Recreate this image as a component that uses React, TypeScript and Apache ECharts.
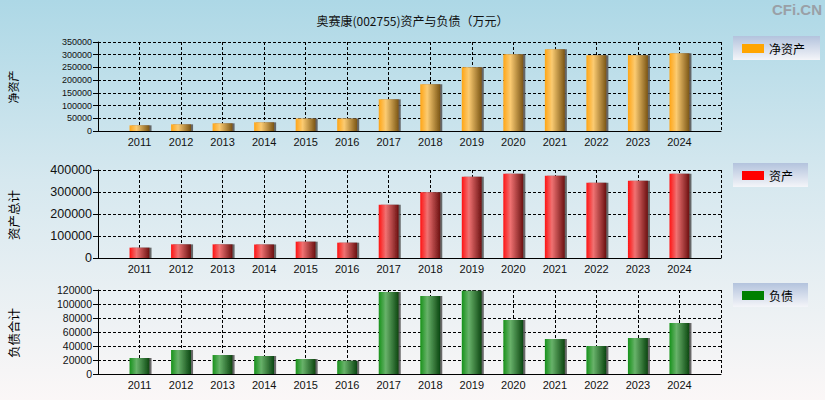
import React, { useEffect, useRef } from "react";
import * as echarts from "echarts";

const years = ["2011", "2012", "2013", "2014", "2015", "2016", "2017", "2018", "2019", "2020", "2021", "2022", "2023", "2024"];
const netAssets = [22300, 26200, 30200, 34100, 49000, 49000, 124700, 183700, 250700, 301800, 321500, 297900, 297900, 305800];
const totalAssets = [47000, 62000, 62000, 61500, 74200, 69700, 242400, 298500, 369700, 383300, 374200, 342400, 351500, 383300];
const liabilities = [22900, 34300, 27100, 25700, 21400, 19000, 117100, 111400, 119000, 77100, 50000, 40000, 51400, 72900];
const seriesNames = ["净资产", "资产", "负债"];
const axisNames = ["净资产", "资产总计", "负债合计"];
const yMax = [350000, 400000, 120000];
const yStep = [50000, 100000, 20000];
const titleText = "奥赛康(002755)资产与负债（万元）";

const cats = ["", ...years, ""];
const pad = (arr: number[]) => ["-", ...arr, "-"];

const gridTops = [42, 170, 290];
const gridHeights = [89, 88, 84];
const yFont = [9, 12.5, 10.5];
const nameFont = [11, 12.5, 12.5];

const grad = (c0: string, c1: string, c2: string) =>
  new echarts.graphic.LinearGradient(0, 0, 1, 0, [
    { offset: 0, color: c0 },
    { offset: 0.35, color: c1 },
    { offset: 1, color: c2 },
  ]);

export default function App() {
  const ref = useRef<HTMLDivElement>(null);
  useEffect(() => {
    if (!ref.current) return;
    const chart = echarts.init(ref.current, undefined, { renderer: "svg" });
    const fills = [
      grad("#FFA515", "#FBCB72", "#7A5514"),
      grad("#FF1212", "#F07272", "#6A1010"),
      grad("#17921A", "#68B26A", "#0B4510"),
    ];
    const swatch = ["#FFA500", "#FF0000", "#008000"];
    const dataSets = [netAssets, totalAssets, liabilities];
    const dash = { color: "#000", width: 1, type: [3, 2] as any };

    const grids = gridTops.map((t, i) => ({ left: 98, right: 104, top: t, height: gridHeights[i], containLabel: false }));
    const xAxes = gridTops.map((_, i) => ({
      type: "category",
      gridIndex: i,
      data: cats,
      boundaryGap: false,
      axisLine: { lineStyle: { color: "#000", width: 1 } },
      axisTick: { show: false },
      axisLabel: { interval: 0, color: "#111", fontSize: 11, fontFamily: "Liberation Sans, Arial", margin: 5 },
      splitLine: { show: true, interval: 0, lineStyle: dash },
    }));
    const yAxes = gridTops.map((_, i) => ({
      type: "value",
      gridIndex: i,
      min: 0,
      max: yMax[i],
      interval: yStep[i],
      axisLine: { show: true, lineStyle: { color: "#000", width: 1 } },
      axisTick: { show: true, length: 5, lineStyle: { color: "#000" } },
      axisLabel: {
        color: "#111",
        fontSize: yFont[i],
        fontFamily: "Liberation Sans, Arial",
        margin: 6,
        formatter: (v: number) => String(v),
      },
      splitLine: { show: true, lineStyle: dash },
    }));
    const series = dataSets.map((d, i) => ({
      type: "bar",
      name: seriesNames[i],
      xAxisIndex: i,
      yAxisIndex: i,
      data: pad(d),
      barWidth: 20,
      itemStyle: {
        color: fills[i],
        shadowColor: "rgba(90,90,90,0.9)",
        shadowOffsetX: 2,
        shadowOffsetY: 0,
        shadowBlur: 0,
      },
    }));

    const legendY = [36, 163, 283];
    const legendW = [87, 75, 75];
    const legendGraphics = legendY.map((y, i) => ({
      type: "group",
      children: [
        {
          type: "rect",
          shape: { x: 733, y, width: legendW[i], height: 24 },
          style: {
            fill: new echarts.graphic.LinearGradient(0, 0, 0, 1, [
              { offset: 0, color: "#B3C3DD" },
              { offset: 1, color: "#F4F5F9" },
            ]),
          },
        },
        { type: "rect", shape: { x: 742, y: y + 8, width: 22, height: 9 }, style: { fill: swatch[i] } },
        {
          type: "text",
          x: 769,
          y: y + 12.5,
          style: { text: seriesNames[i], fill: "#000", font: "12px 'Noto Sans CJK SC'", verticalAlign: "middle" },
        },
      ],
    }));

    const nameCenters = [87, 215, 333];
    const nameGraphics = nameCenters.map((cy, i) => ({
      type: "text",
      x: 13,
      y: cy,
      rotation: Math.PI / 2,
      style: {
        text: axisNames[i],
        fill: "#000",
        font: `${nameFont[i]}px 'Noto Sans CJK SC'`,
        align: "center",
        verticalAlign: "middle",
      },
    }));

    chart.setOption({
      animation: false,
      title: {
        text: titleText,
        left: "center",
        top: 9,
        textStyle: { fontSize: 12, fontWeight: "normal", color: "#111", fontFamily: "Noto Sans CJK SC" },
      },
      grid: grids,
      xAxis: xAxes,
      yAxis: yAxes,
      series,
      graphic: [
        {
          type: "text",
          right: 3,
          top: 2,
          style: { text: "CFi.CN", fill: "#9AA0A6", font: "bold 15px 'Liberation Sans', Arial" },
        },
        ...legendGraphics,
        ...nameGraphics,
      ],
    });
    return () => chart.dispose();
  }, []);
  return (
    <div
      ref={ref}
      style={{
        position: "fixed",
        left: 0,
        top: 0,
        width: 825,
        height: 400,
        background: "linear-gradient(to bottom, #ADD8E6 0%, #D6E8EF 45%, #FBF7F7 100%)",
      }}
    />
  );
}
